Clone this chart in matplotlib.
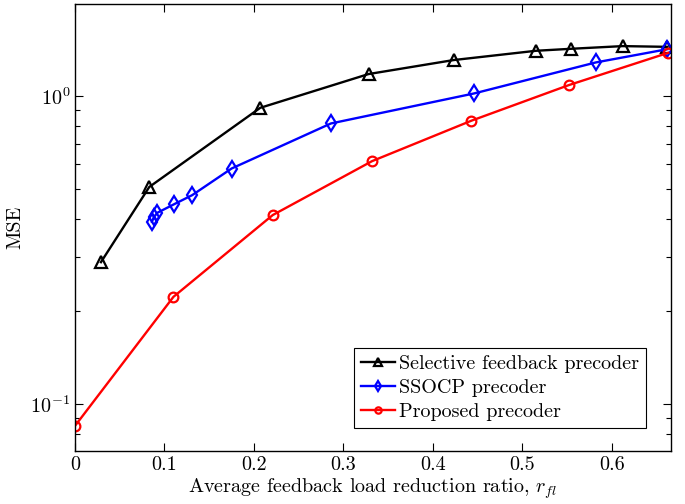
import numpy as np
import matplotlib as mpl
mpl.use('Agg')
import matplotlib.pyplot as plt

# Computer-Modern look, like the LaTeX figure
mpl.rcParams['font.family'] = 'serif'
mpl.rcParams['font.serif'] = ['cmr10']
mpl.rcParams['mathtext.fontset'] = 'cm'
mpl.rcParams['axes.formatter.use_mathtext'] = True

# Data
sel_x = [0.029, 0.083, 0.207, 0.328, 0.423, 0.515, 0.554, 0.612, 0.662]
sel_y = [0.289, 0.507, 0.916, 1.179, 1.309, 1.403, 1.424, 1.453, 1.445]

ssocp_x = [0.086, 0.088, 0.092, 0.111, 0.131, 0.175, 0.286, 0.446, 0.582, 0.662]
ssocp_y = [0.391, 0.404, 0.418, 0.446, 0.477, 0.582, 0.815, 1.02, 1.286, 1.42]

prop_x = [0.0, 0.110, 0.221, 0.332, 0.443, 0.552, 0.663]
prop_y = [0.085, 0.223, 0.411, 0.615, 0.832, 1.086, 1.382]

labels = ['Selective feedback precoder', 'SSOCP precoder', 'Proposed precoder']

fs = 14.5

fig = plt.figure(figsize=(6.85, 5.04), dpi=100)
ax = fig.add_axes([0.1095, 0.105, 0.870, 0.887])

ax.plot(sel_x, sel_y, color='k', lw=1.7, marker='^', ms=8, mfc='none', mew=1.6, label=labels[0])
ax.plot(ssocp_x, ssocp_y, color='#0000ff', lw=1.7, marker='d', ms=8, mfc='none', mew=1.6, label=labels[1])
ax.plot(prop_x, prop_y, color='#ff0000', lw=1.7, marker='o', ms=7, mfc='none', mew=1.6, label=labels[2])

ax.set_yscale('log')
ax.set_xlim(0, 0.666)
ax.set_ylim(0.0704, 1.99)
ax.set_xticks([0, 0.1, 0.2, 0.3, 0.4, 0.5, 0.6])
ax.set_xticklabels(['0', '0.1', '0.2', '0.3', '0.4', '0.5', '0.6'])

ax.tick_params(which='both', direction='in', top=True, right=True, labelsize=fs)
ax.tick_params(which='major', length=6, width=0.8)
ax.tick_params(which='minor', length=3.5, width=0.8)
for s in ax.spines.values():
    s.set_linewidth(1.0)

ax.set_xlabel('Average feedback load reduction ratio, $r_{fl}$', fontsize=fs, labelpad=2)
ax.set_ylabel('MSE', fontsize=fs)

leg = ax.legend(loc='lower right', fontsize=fs, fancybox=False, framealpha=1,
                edgecolor='k', handlelength=1.7, handletextpad=0.2,
                borderpad=0.35, labelspacing=0.28, markerscale=0.65,
                bbox_to_anchor=(0.975, 0.03))
leg.get_frame().set_linewidth(0.8)

plt.savefig('out.png', dpi=100)
